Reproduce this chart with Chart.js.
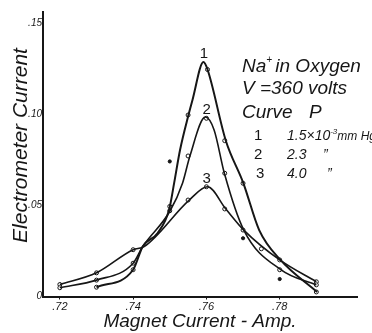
<!DOCTYPE html>
<html>
<head>
<meta charset="utf-8">
<script src="https://cdn.jsdelivr.net/npm/chart.js@4.4.1/dist/chart.umd.min.js"></script>
<style>
    html, body { margin: 0; padding: 0; background: #fff; }
</style>
</head>
<body>
<canvas id="graficoCorrente" width="372" height="333"></canvas>
<script>
// eixos
const xTicks = [0.72, 0.74, 0.76, 0.78];
const xTickLabels = [".72", ".74", ".76", ".78"];
const yTicks = [0, 0.05, 0.10, 0.15];
const yTickLabels = ["0", ".05", ".10", ".15"];

// curvas desenhadas (lidas ao longo do traco)
const curva1X = [0.73, 0.74, 0.7426, 0.7467, 0.7498, 0.7512, 0.7528, 0.7551, 0.7562, 0.7592, 0.7603, 0.7653, 0.7701, 0.7744, 0.7802, 0.7902];
const curva1Y = [0.0051, 0.0147, 0.0274, 0.0349, 0.0475, 0.0624, 0.0805, 0.0997, 0.1080, 0.1288, 0.1247, 0.0856, 0.0622, 0.0365, 0.0201, 0.0025];
const curva2X = [0.72, 0.73, 0.74, 0.7426, 0.7501, 0.7535, 0.7555, 0.7597, 0.7621, 0.7649, 0.7702, 0.7804, 0.79];
const curva2Y = [0.0048, 0.0090, 0.0183, 0.0274, 0.0471, 0.0624, 0.0772, 0.0986, 0.0915, 0.0677, 0.0365, 0.0146, 0.0063];
const curva3X = [0.72, 0.73, 0.74, 0.743, 0.7553, 0.7603, 0.7653, 0.7702, 0.78, 0.79];
const curva3Y = [0.0066, 0.0130, 0.0257, 0.0274, 0.0530, 0.0603, 0.0481, 0.0365, 0.0201, 0.0081];

// pontos medidos (circulos abertos)
const medidosX = [0.72, 0.72, 0.73, 0.73, 0.73, 0.74, 0.74, 0.74, 0.75, 0.75, 0.755, 0.755, 0.755, 0.7603, 0.76, 0.76, 0.765, 0.765, 0.765, 0.77, 0.77, 0.775, 0.78, 0.78, 0.79, 0.79, 0.79];
const medidosY = [0.0066, 0.0048, 0.0130, 0.0090, 0.0051, 0.0257, 0.0183, 0.0147, 0.0495, 0.0471, 0.0997, 0.0772, 0.0530, 0.1247, 0.0979, 0.0603, 0.0856, 0.0677, 0.0481, 0.0622, 0.0365, 0.0262, 0.0201, 0.0147, 0.0081, 0.0064, 0.0025];

// pontos avulsos (cheios)
const avulsosX = [0.75, 0.77, 0.78];
const avulsosY = [0.0742, 0.0320, 0.0096];

// rotulos das curvas
const rotulosCurva = ["1", "2", "3"];
const rotulosX = [0.7593, 0.7601, 0.7601];
const rotulosY = [0.1310, 0.1003, 0.0624];

const FONTE = '"Liberation Sans Narrow", "Liberation Sans", sans-serif';
const TINTA = "#161616";

function pares(xs, ys) {
    return xs.map((x, i) => ({ x, y: ys[i] }));
}

function linhaCurva(xs, ys, largura) {
    return {
        data: pares(xs, ys),
        showLine: true,
        borderColor: TINTA,
        borderWidth: largura,
        pointRadius: 0,
        cubicInterpolationMode: "monotone",
        fill: false,
    };
}

// textos da legenda (Na+ in Oxygen ...) e numeros das curvas
const textosPlugin = {
    id: "textos",
    afterDraw(chart) {
        const c = chart.ctx;
        const sx = chart.scales.x;
        const sy = chart.scales.y;
        c.save();
        c.fillStyle = TINTA;
        c.textBaseline = "alphabetic";

        c.font = "15px " + FONTE;
        c.textAlign = "center";
        rotulosCurva.forEach((t, i) => {
            c.fillText(t, sx.getPixelForValue(rotulosX[i]), sy.getPixelForValue(rotulosY[i]));
        });

        c.textAlign = "left";
        const grande = "italic 19px " + FONTE;
        const pequeno = "italic 10px " + FONTE;
        c.font = grande;
        c.fillText("Na", 242, 72);
        let w = c.measureText("Na").width;
        c.font = pequeno;
        c.fillText("+", 242 + w, 63);
        c.font = grande;
        c.fillText("in Oxygen", 242 + w + 9, 72);
        c.fillText("V =360 volts", 242, 94);
        c.fillText("Curve", 242, 118);
        c.fillText("P", 309, 118);

        const medio = "italic 14px " + FONTE;
        c.font = "15px " + FONTE;
        c.fillText("1", 254, 140);
        c.fillText("2", 254, 159);
        c.fillText("3", 256, 178);
        c.font = medio;
        let x = 287;
        c.fillText("1.5\u00d710", x, 140);
        x += c.measureText("1.5\u00d710").width;
        c.font = "italic 8px " + FONTE;
        c.fillText("-3", x, 134);
        x += c.measureText("-3").width;
        c.font = "italic 12px " + FONTE;
        c.fillText("mm Hg", x, 140);
        c.font = medio;
        c.fillText("2.3", 287, 159);
        c.fillText("4.0", 287, 178);
        c.fillText("\u201d", 323, 159);
        c.fillText("\u201d", 327, 178);
        c.restore();
    },
};

const ctx = document.getElementById("graficoCorrente");

new Chart(ctx, {
    type: "scatter",
    data: {
        datasets: [
            linhaCurva(curva1X, curva1Y, 2),
            linhaCurva(curva2X, curva2Y, 1.6),
            linhaCurva(curva3X, curva3Y, 1.6),
            {
                data: pares(medidosX, medidosY),
                pointRadius: 2,
                pointBorderWidth: 1,
                pointBackgroundColor: "#fff",
                pointBorderColor: TINTA,
            },
            {
                data: pares(avulsosX, avulsosY),
                pointRadius: 1.6,
                pointBorderWidth: 1,
                pointBackgroundColor: TINTA,
                pointBorderColor: TINTA,
            },
        ],
    },
    options: {
        responsive: false,
        animation: false,
        layout: { padding: { top: 12, right: 15, left: 0, bottom: 0 } },
        plugins: {
            legend: { display: false },
            tooltip: { enabled: false },
        },
        scales: {
            x: {
                type: "linear",
                min: 0.7154,
                max: 0.8011,
                afterFit: (s) => { s.height = 36.5; },
                afterBuildTicks: (s) => { s.ticks = xTicks.map((v) => ({ value: v })); },
                ticks: {
                    callback: (v, i) => xTickLabels[i],
                    font: { family: FONTE, style: "italic", size: 11 },
                    color: TINTA,
                    padding: 1,
                    maxRotation: 0,
                },
                grid: { drawOnChartArea: false, tickLength: 3, color: TINTA },
                border: { color: TINTA, width: 2 },
                title: {
                    display: true,
                    text: "Magnet Current - Amp.",
                    font: { family: FONTE, style: "italic", size: 19 },
                    color: TINTA,
                    padding: { top: 0, bottom: 0 },
                },
            },
            y: {
                min: 0,
                max: 0.1563,
                afterFit: (s) => { s.width = 43; },
                afterBuildTicks: (s) => { s.ticks = yTicks.map((v) => ({ value: v })); },
                ticks: {
                    callback: (v, i) => yTickLabels[i],
                    font: { family: FONTE, style: "italic", size: 10 },
                    color: TINTA,
                    padding: 1,
                },
                grid: { drawOnChartArea: false, drawTicks: false, color: TINTA },
                border: { color: TINTA, width: 2 },
                title: {
                    display: true,
                    text: "   Electrometer Current",
                    font: { family: FONTE, style: "italic", size: 21 },
                    color: TINTA,
                    padding: { top: 9, bottom: 0 },
                },
            },
        },
    },
    plugins: [textosPlugin],
});
</script>
</body>
</html>
